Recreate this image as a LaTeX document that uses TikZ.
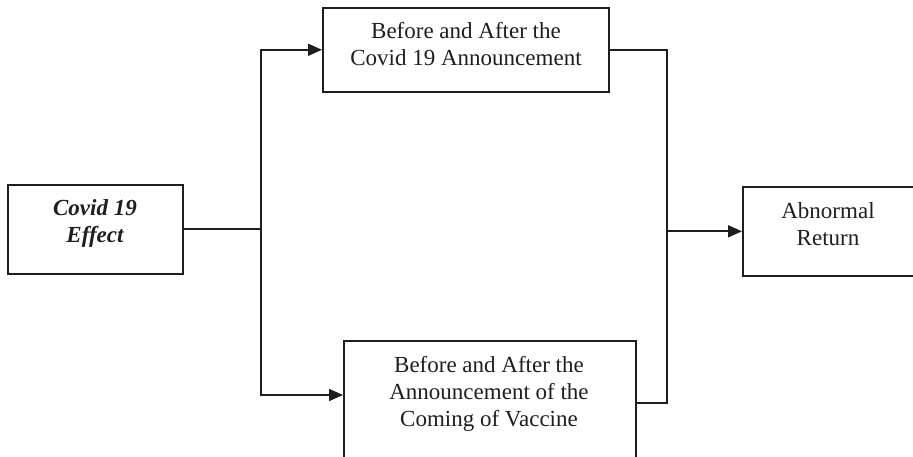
\documentclass[tikz,border=0pt]{standalone}
\usepackage{fontspec}
\setmainfont{Liberation Serif}
\usetikzlibrary{arrows.meta}
\definecolor{ink}{HTML}{1E1E1E}
\begin{document}
\begin{tikzpicture}[x=1pt,y=-1pt,
  box/.style={draw=ink,line width=1.6pt,inner sep=0pt,anchor=north west},
  lbl/.style={font=\fontsize{23}{27}\selectfont,align=center,inner sep=0pt,anchor=base,text=ink},
  conn/.style={draw=ink,line width=1.7pt},
  arr/.style={conn,-{Triangle[length=14pt,width=12pt]}}]
\useasboundingbox (0,0) rectangle (913,457);
\clip (0,0) rectangle (913,457);
% boxes
\node[box,minimum width=175pt,minimum height=89pt] (c1) at (7,184) {};
\node[box,minimum width=286pt,minimum height=84pt] (b2) at (322,7) {};
\node[box,minimum width=292pt,minimum height=140pt] (b3) at (343,340) {};
\node[box,minimum width=200pt,minimum height=89pt] (b4) at (742,186) {};
% texts
\node[lbl,font=\fontsize{23}{28}\selectfont\bfseries\itshape] (t1) at (95,243) {Covid 19\\Effect};
\node[lbl] (t2) at (466,66) {Before and After the\\Covid 19 Announcement};
\node[lbl] (t3) at (489,426) {Before and After the\\Announcement of the\\Coming of Vaccine};
\node[lbl] (t4) at (828,246) {Abnormal\\Return};
% connectors
\path (c1.east) ++(77.5,0) coordinate (j1);
\path (b4.west) ++(-75,0) coordinate (j2);
\draw[conn] (c1.east) -- (j1);
\draw[arr] (j1) |- (b2.west);
\draw[arr] (j1) |- ([yshift=-55pt]b3.north west);
\draw[conn] (b2.east) -| (j2);
\draw[conn] ([yshift=-63pt]b3.north east) -| (j2);
\draw[arr] (j2) -- (b4.west);
\end{tikzpicture}
\end{document}
